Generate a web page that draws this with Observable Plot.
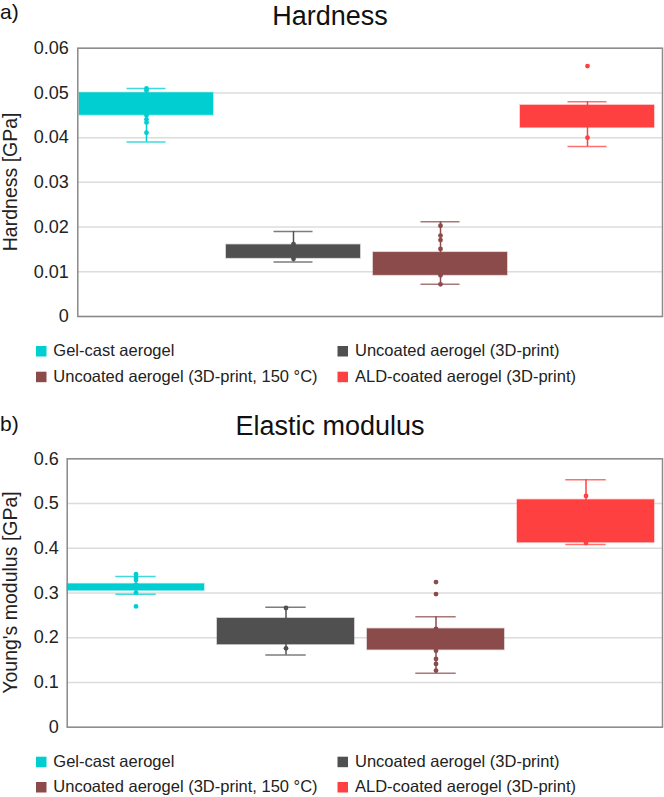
<!DOCTYPE html>
<html><head><meta charset="utf-8">
<script src="https://cdn.jsdelivr.net/npm/d3@7"></script>
<script src="https://cdn.jsdelivr.net/npm/@observablehq/plot@0.6"></script>
<style>
body{margin:0;background:#fff;}
#wrap{position:relative;width:664px;height:797px;font-family:"Liberation Sans",Arial,sans-serif;background:#fff;}
#wrap svg{position:absolute;left:0;overflow:visible;}
</style></head><body><div id="wrap"></div>
<script>
const categories = ["Gel-cast aerogel","Uncoated aerogel (3D-print)","Uncoated aerogel (3D-print, 150 °C)","ALD-coated aerogel (3D-print)"];
const colors = ["#00ced1","#505050","#8b4b4b","#ff4040"];

// a) Hardness [GPa]
const hardQ1 = [0.045, 0.013, 0.0092, 0.0422];
const hardQ3 = [0.050, 0.016, 0.0143, 0.0472];
const hardLow = [0.039, 0.0122, 0.0072, 0.038];
const hardHigh = [0.051, 0.019, 0.0212, 0.048];
const hardPoints = [
  [0.051, 0.0505, 0.045, 0.0441, 0.0434, 0.0411],
  [0.0162, 0.0129],
  [0.0203, 0.0181, 0.0171, 0.0151, 0.0092, 0.0072],
  [0.056, 0.040]
];
const hardTicks = [0, 0.01, 0.02, 0.03, 0.04, 0.05, 0.06];

// b) Young's modulus [GPa]
const modQ1 = [0.305, 0.1846, 0.1727, 0.4125];
const modQ3 = [0.320, 0.243, 0.2196, 0.508];
const modLow = [0.297, 0.1616, 0.1205, 0.4085];
const modHigh = [0.337, 0.268, 0.247, 0.553];
const modPoints = [
  [0.342, 0.3335, 0.329, 0.318, 0.3125, 0.301, 0.270],
  [0.2665, 0.1763],
  [0.3245, 0.2977, 0.22, 0.171, 0.1527, 0.1415, 0.1265],
  [0.517, 0.4115]
];
const modTicks = [0, 0.1, 0.2, 0.3, 0.4, 0.5, 0.6];

const FONT = '"Liberation Sans", Arial, sans-serif';

function panel(o) {
  const boxes = categories.map((c, i) => ({cat: c, q1: o.q1[i], q3: o.q3[i], low: o.low[i], high: o.high[i]}));
  const dots = categories.flatMap((c, i) => o.points[i].map(v => ({cat: c, v})));
  const plot = Plot.plot({
    width: 664, height: o.height,
    marginLeft: o.marginLeft, marginRight: 2, marginTop: o.marginTop, marginBottom: o.marginBottom,
    style: {fontFamily: FONT, fontSize: "18px", color: "#222", background: "transparent"},
    x: {domain: categories, range: o.range, paddingInner: o.pad, paddingOuter: 0, axis: null},
    y: {domain: [o.ticks[0], o.ticks[o.ticks.length - 1]]},
    color: {domain: categories, range: colors},
    marks: [
      Plot.gridY(o.ticks, {stroke: "#dcdcdc", strokeOpacity: 1, strokeWidth: 1.5}),
      Plot.ruleX(boxes, {x: "cat", y1: "low", y2: "high", stroke: "cat", strokeWidth: 1.5}),
      Plot.barY(boxes, {x: "cat", y1: "q1", y2: "q3", fill: "cat", stroke: "cat", strokeOpacity: 0.35, strokeWidth: 1.5}),
      Plot.tickY(boxes, {x: "cat", y: "low", stroke: "cat", strokeWidth: 1.5, strokeOpacity: 0.75, insetLeft: o.capInset, insetRight: o.capInset}),
      Plot.tickY(boxes, {x: "cat", y: "high", stroke: "cat", strokeWidth: 1.5, strokeOpacity: 0.75, insetLeft: o.capInset, insetRight: o.capInset}),
      Plot.dot(dots, {x: "cat", y: "v", fill: "cat", r: 2.4}),
      Plot.frame({stroke: "#8a8a8a", strokeWidth: 1.5}),
      Plot.axisY(o.ticks, {tickSize: 0, tickPadding: o.tickPad, tickFormat: o.fmt, label: null, fontSize: 18})
    ]
  });
  plot.style.top = o.top + "px";
  const svg = d3.select(plot);
  svg.append("text").attr("x", 0).attr("y", o.labelY).attr("font-size", 21).attr("fill", "#111")
    .attr("text-anchor", "start").style("font-family", FONT).text(o.panelLabel);
  svg.append("text").attr("x", 330).attr("y", 25).attr("font-size", 27).attr("fill", "#111")
    .attr("text-anchor", "middle").style("font-family", FONT).text(o.title);
  const cy = (o.marginTop + (o.height - o.marginBottom)) / 2;
  svg.append("text").attr("transform", `translate(17,${cy}) rotate(-90)`).attr("text-anchor", "middle")
    .attr("font-size", 19.5).attr("fill", "#222").style("font-family", FONT).text(o.yLabel);
  const colX = [36, 337.5], textX = [53.3, 355];
  categories.forEach((c, i) => {
    const col = i % 2, row = Math.floor(i / 2);
    const by = o.legendY[row];
    svg.append("rect").attr("x", colX[col]).attr("y", by - 10).attr("width", 10.5).attr("height", 10.5).attr("fill", colors[i]);
    svg.append("text").attr("x", textX[col]).attr("y", by).attr("font-size", 16.5).attr("fill", "#222")
      .attr("text-anchor", "start").style("font-family", FONT).text(c);
  });
  return plot;
}

const wrap = document.getElementById("wrap");
wrap.appendChild(panel({
  q1: hardQ1, q3: hardQ3, low: hardLow, high: hardHigh, points: hardPoints, ticks: hardTicks,
  fmt: d => d === 0 ? "0" : d.toFixed(2),
  height: 400, top: 0, marginTop: 47.7, marginBottom: 84, marginLeft: 77.3,
  range: [77.3, 655.4], pad: 0.086, capInset: 47.5, tickPad: 9,
  panelLabel: "a)", labelY: 19, title: "Hardness", yLabel: "Hardness [GPa]", legendY: [356, 381.7]
}));
wrap.appendChild(panel({
  q1: modQ1, q3: modQ3, low: modLow, high: modHigh, points: modPoints, ticks: modTicks,
  fmt: d => d === 0 ? "0" : d.toFixed(1),
  height: 387, top: 410, marginTop: 48.3, marginBottom: 70.3, marginLeft: 66.7,
  range: [66.7, 654], pad: 0.085, capInset: 48.3, tickPad: 8.5,
  panelLabel: "b)", labelY: 21, title: "Elastic modulus", yLabel: "Young's modulus [GPa]", legendY: [356.7, 382]
}));
</script></body></html>
